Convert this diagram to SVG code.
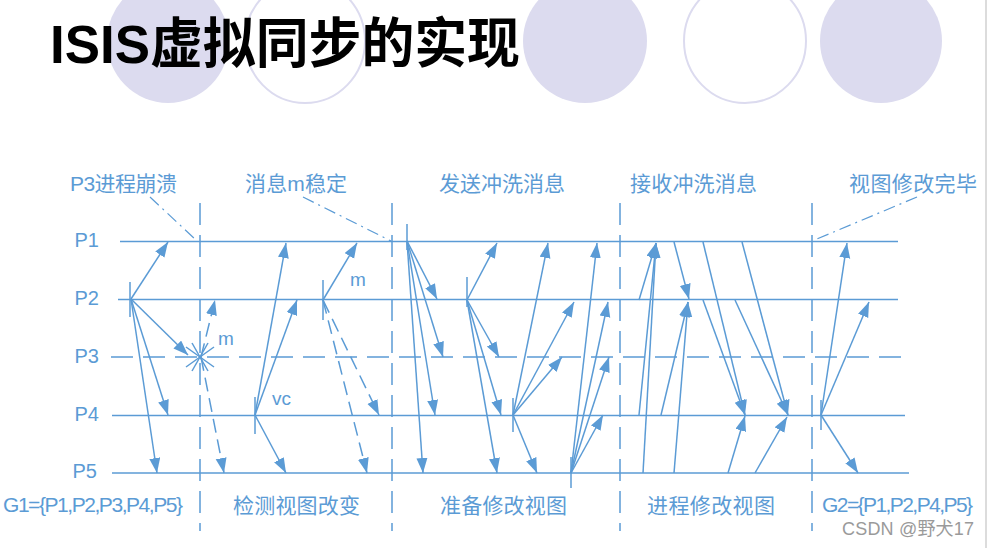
<svg xmlns="http://www.w3.org/2000/svg" width="991" height="548" viewBox="0 0 991 548">
<style>
.c{stroke:#5b9bd5;stroke-width:1.5;fill:none}
.a{stroke:#5b9bd5;stroke-width:1.5;fill:none;marker-end:url(#ah)}
.ad{stroke:#5b9bd5;stroke-width:1.5;fill:none;stroke-dasharray:14 7;marker-end:url(#ah)}
.v{stroke:#5b9bd5;stroke-width:1.5;fill:none;stroke-dasharray:22 10}
.dd{stroke:#5b9bd5;stroke-width:1.2;fill:none;stroke-dasharray:12 5 2 5}
.t{font-family:"Liberation Sans","Noto Sans CJK SC",sans-serif;fill:#5b9bd5;font-size:21px}
.p{font-family:"Liberation Sans",sans-serif;fill:#5b9bd5;font-size:20px;text-anchor:end}
.s{font-family:"Liberation Sans",sans-serif;fill:#5b9bd5;font-size:19px}
.fc{fill:#dcdbef}
.oc{fill:none;stroke:#dcdbef;stroke-width:2}
</style>
<defs>
<marker id="ah" markerUnits="userSpaceOnUse" markerWidth="17" markerHeight="12" refX="15" refY="5.5" orient="auto"><path d="M0,0 L15,5.5 L0,11 z" fill="#5b9bd5"/></marker>
</defs>
<rect width="991" height="548" fill="#ffffff"/>
<g id="decor">
<ellipse class="fc" cx="168" cy="41" rx="61" ry="62"/>
<ellipse class="oc" cx="305" cy="41" rx="60" ry="62"/>
<ellipse class="fc" cx="585" cy="41" rx="62" ry="62"/>
<ellipse class="oc" cx="745" cy="41" rx="61" ry="62"/>
<ellipse class="fc" cx="881" cy="41" rx="61" ry="62"/>
<line x1="986" y1="0" x2="986" y2="548" stroke="#d0d0d0" stroke-width="1.5"/>
</g>
<g id="title">
<text x="50" y="63" font-family="'Liberation Sans','Noto Sans CJK SC',sans-serif" font-weight="bold" font-size="54" fill="#000" textLength="470" lengthAdjust="spacingAndGlyphs">ISIS虚拟同步的实现</text>
</g>
<g id="timelines">
<line class="c" x1="120" y1="241.5" x2="898" y2="241.5"/>
<line class="c" x1="118" y1="299.5" x2="898" y2="299.5"/>
<line class="c" x1="111" y1="357" x2="903" y2="357" style="stroke-dasharray:22 10"/>
<line class="c" x1="112" y1="415.5" x2="905" y2="415.5"/>
<line class="c" x1="112" y1="473" x2="909" y2="473"/>
<text class="p" x="99" y="247">P1</text>
<text class="p" x="99" y="305">P2</text>
<text class="p" x="99" y="363">P3</text>
<text class="p" x="99" y="421">P4</text>
<text class="p" x="97" y="478">P5</text>
</g>
<g id="phases">
<line class="v" x1="200" y1="203" x2="200" y2="531"/>
<line class="v" x1="392" y1="203" x2="392" y2="531"/>
<line class="v" x1="620" y1="203" x2="620" y2="531"/>
<line class="v" x1="812" y1="203" x2="812" y2="531"/>
</g>
<g id="top-labels">
<text class="t" x="70" y="191" textLength="107">P3进程崩溃</text>
<text class="t" x="245" y="191" textLength="102">消息m稳定</text>
<text class="t" x="439" y="191" textLength="126">发送冲洗消息</text>
<text class="t" x="630" y="191" textLength="127">接收冲洗消息</text>
<text class="t" x="849" y="191" textLength="128">视图修改完毕</text>
<line class="dd" x1="150" y1="197" x2="196" y2="240"/>
<line class="dd" x1="303" y1="197" x2="391" y2="241"/>
<line class="dd" x1="917" y1="197" x2="817" y2="239"/>
</g>
<g id="bottom-labels">
<text class="t" x="3" y="512" textLength="180">G1={P1,P2,P3,P4,P5}</text>
<text class="t" x="233" y="513" textLength="127">检测视图改变</text>
<text class="t" x="440" y="513" textLength="127">准备修改视图</text>
<text class="t" x="647" y="513" textLength="128">进程修改视图</text>
<text class="t" x="822" y="512" textLength="151">G2={P1,P2,P4,P5}</text>
<text x="842" y="535" font-family="'Liberation Sans','Noto Sans CJK SC',sans-serif" font-size="18" fill="#9a9a9a" textLength="132">CSDN @野犬17</text>
</g>
<g id="events">
<line class="c" x1="130" y1="282" x2="130" y2="317"/>
<g id="crash">
<line class="c" x1="186" y1="347" x2="214" y2="367"/>
<line class="c" x1="186" y1="367" x2="214" y2="347"/>
<line class="c" x1="192" y1="343" x2="208" y2="371"/>
<line class="c" x1="192" y1="371" x2="208" y2="343"/>
</g>
<line class="c" x1="255" y1="397" x2="255" y2="434"/>
<line class="c" x1="323" y1="280" x2="323" y2="320"/>
<line class="c" x1="407" y1="224" x2="407" y2="250"/>
<line class="c" x1="467" y1="277" x2="467" y2="307"/>
<line class="c" x1="513" y1="398" x2="513" y2="432"/>
<line class="c" x1="571" y1="457" x2="571" y2="488"/>
<line class="c" x1="821" y1="400" x2="821" y2="430"/>
<text class="s" x="218" y="345">m</text>
<text class="s" x="350" y="286">m</text>
<text class="s" x="272" y="405">vc</text>
</g>
<g id="connectors">
<line class="a" x1="131" y1="299" x2="168" y2="242"/>
<line class="a" x1="131" y1="299" x2="188" y2="355"/>
<line class="a" x1="131" y1="299" x2="168" y2="415"/>
<line class="a" x1="131" y1="299" x2="157" y2="473"/>
<line class="ad" x1="201" y1="357" x2="215" y2="300"/>
<line class="ad" x1="201" y1="357" x2="224" y2="473"/>
<line class="a" x1="255" y1="415" x2="286" y2="243"/>
<line class="a" x1="255" y1="415" x2="297" y2="300"/>
<line class="a" x1="255" y1="415" x2="286" y2="473"/>
<line class="a" x1="323" y1="300" x2="357" y2="243"/>
<line class="ad" x1="323" y1="300" x2="379" y2="415"/>
<line class="ad" x1="323" y1="300" x2="367" y2="473"/>
<line class="a" x1="407" y1="241" x2="437" y2="299"/>
<line class="a" x1="407" y1="241" x2="443" y2="357"/>
<line class="a" x1="407" y1="241" x2="435" y2="415"/>
<line class="a" x1="407" y1="241" x2="423" y2="473"/>
<line class="a" x1="467" y1="300" x2="497" y2="243"/>
<line class="a" x1="467" y1="300" x2="499" y2="357"/>
<line class="a" x1="467" y1="300" x2="501" y2="415"/>
<line class="a" x1="467" y1="300" x2="497" y2="473"/>
<line class="a" x1="513" y1="415" x2="548" y2="243"/>
<line class="a" x1="513" y1="415" x2="574" y2="302"/>
<line class="a" x1="513" y1="415" x2="562" y2="357"/>
<line class="a" x1="513" y1="415" x2="537" y2="473"/>
<line class="a" x1="571" y1="473" x2="597" y2="243"/>
<line class="a" x1="571" y1="473" x2="608" y2="302"/>
<line class="a" x1="571" y1="473" x2="609" y2="357"/>
<line class="a" x1="571" y1="473" x2="603" y2="415"/>
<line class="a" x1="639" y1="300" x2="656" y2="243"/>
<line class="a" x1="639" y1="415" x2="656" y2="243"/>
<line class="a" x1="643" y1="473" x2="656" y2="243"/>
<line class="a" x1="661" y1="415" x2="688" y2="302"/>
<line class="a" x1="674" y1="473" x2="688" y2="302"/>
<line class="a" x1="674" y1="242" x2="689" y2="299"/>
<line class="a" x1="703" y1="242" x2="745" y2="415"/>
<line class="a" x1="703" y1="300" x2="745" y2="415"/>
<line class="a" x1="742" y1="242" x2="788" y2="415"/>
<line class="a" x1="735" y1="300" x2="788" y2="415"/>
<line class="a" x1="728" y1="473" x2="745" y2="416"/>
<line class="a" x1="755" y1="473" x2="787" y2="417"/>
<line class="a" x1="821" y1="415" x2="847" y2="243"/>
<line class="a" x1="821" y1="415" x2="869" y2="302"/>
<line class="a" x1="821" y1="415" x2="858" y2="473"/>
</g>
</svg>
